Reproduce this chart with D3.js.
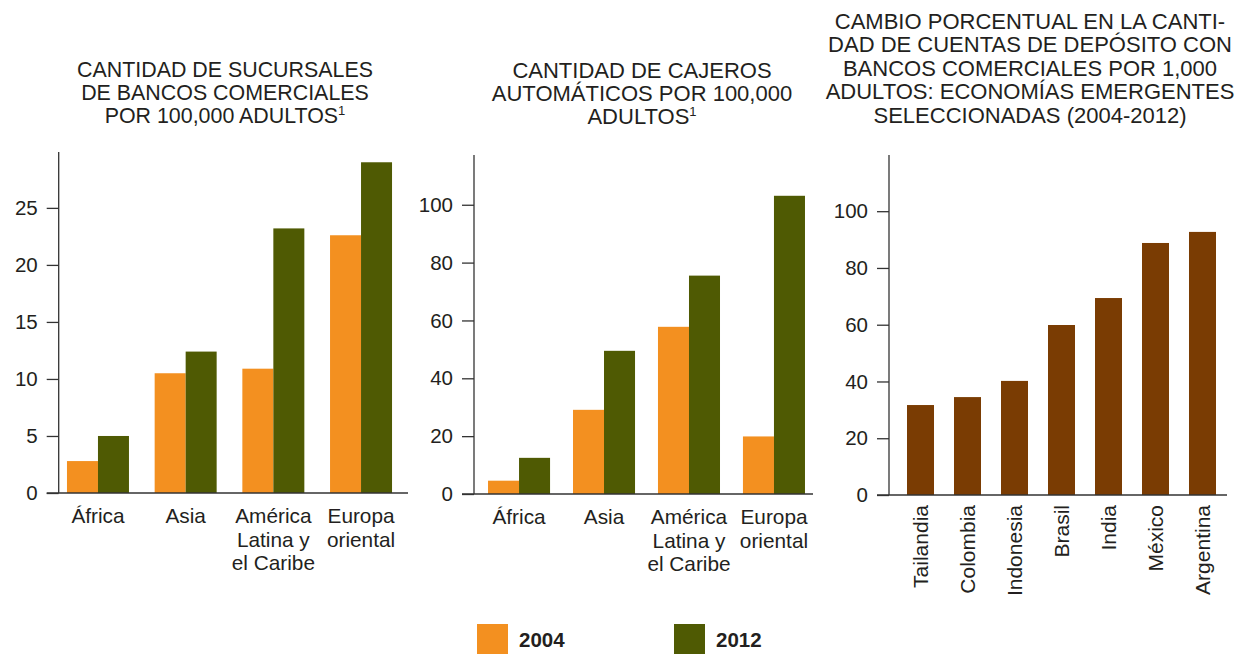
<!DOCTYPE html>
<html>
<head>
<meta charset="utf-8">
<title>Sucursales, cajeros y cuentas</title>
<script src="https://d3js.org/d3.v7.min.js"></script>
<style>
  body { margin: 0; background: #fff; }
  svg text { font-family: "Liberation Sans", Arial, Helvetica, sans-serif; fill: #231f20; }
</style>
<script>
// datos
var regions = ["África", "Asia", "América Latina y el Caribe", "Europa oriental"];
var regionLines = [["África"], ["Asia"], ["América", "Latina y", "el Caribe"], ["Europa", "oriental"]];
var years = ["2004", "2012"];
var branches2004 = [2.8, 10.5, 10.9, 22.6];
var branches2012 = [5.0, 12.4, 23.2, 29.0];
var atms2004 = [4.6, 29.1, 57.8, 19.9];
var atms2012 = [12.5, 49.5, 75.5, 103.1];
var countries = ["Tailandia", "Colombia", "Indonesia", "Brasil", "India", "México", "Argentina"];
var depositChange = [31.7, 34.5, 40.2, 59.9, 69.4, 88.8, 92.7];
var ticks1 = [0, 5, 10, 15, 20, 25];
var ticks2 = [0, 20, 40, 60, 80, 100];
var ticks3 = [0, 20, 40, 60, 80, 100];

var orange = "#f39020", green = "#4f5a03", brown = "#7a3c03", axisColor = "#333";

function drawAxes(svg, y, ticks, axisX, top) {
    var g = svg.append("g").attr("transform", "translate(" + axisX + ",0)");
    g.call(d3.axisLeft(y).tickValues(ticks).tickSize(12).tickSizeOuter(0).tickPadding(9));
    g.select(".domain").remove();
    g.selectAll(".tick line").attr("stroke", axisColor).attr("stroke-width", 1.3);
    g.selectAll(".tick text").style("font-size", "20.5px").attr("fill", "#231f20");
    svg.append("line").attr("x1", axisX).attr("x2", axisX).attr("y1", top).attr("y2", y(0))
        .attr("stroke", axisColor).attr("stroke-width", 1.3);
}

function baseline(svg, y, x0, x1) {
    svg.append("line").attr("x1", x0).attr("x2", x1).attr("y1", y(0)).attr("y2", y(0))
        .attr("stroke", axisColor).attr("stroke-width", 1.5);
}

function title(svg, lines, cx, lastBaseline, gap, size, sup) {
    var t = svg.append("text").attr("text-anchor", "middle").style("font-size", size + "px");
    lines.forEach(function(l, i) {
        var ts = t.append("tspan").attr("x", cx).attr("y", lastBaseline - (lines.length - 1 - i) * gap).text(l);
        if (sup && i == lines.length - 1) {
            ts.append("tspan").attr("dy", -8).style("font-size", "13px").text("1");
        }
    });
}

function grouped(svg, cfg) {
    var y = d3.scaleLinear().domain([0, cfg.yMax]).range([cfg.bottom, cfg.top]);
    var x0 = d3.scaleBand().domain(regions).range(cfg.xRange).paddingInner(cfg.pi).paddingOuter(cfg.po);
    var x1 = d3.scaleBand().domain(years).range([0, x0.bandwidth()]);
    var rows = regions.map(function(r, i) { return {region: r, lines: regionLines[i], v: [cfg.a[i], cfg.b[i]]}; });

    var g = svg.selectAll(null).data(rows).enter().append("g")
        .attr("transform", function(d) { return "translate(" + x0(d.region) + ",0)"; });
    g.selectAll("rect").data(function(d) { return d.v.map(function(v, j) { return {year: years[j], v: v}; }); })
        .enter().append("rect")
        .attr("x", function(d) { return x1(d.year); })
        .attr("width", x1.bandwidth())
        .attr("y", function(d) { return y(d.v); })
        .attr("height", function(d) { return y(0) - y(d.v); })
        .attr("fill", function(d) { return d.year == "2004" ? orange : green; });

    var lab = g.append("text").attr("text-anchor", "middle").style("font-size", "20.8px");
    lab.selectAll("tspan").data(function(d) { return d.lines; }).enter().append("tspan")
        .attr("x", x0.bandwidth() / 2)
        .attr("y", function(d, i) { return y(0) + 30 + i * 23.7; })
        .text(function(d) { return d; });

    drawAxes(svg, y, cfg.ticks, cfg.xRange[0] + cfg.axisOff, cfg.top);
    baseline(svg, y, cfg.xRange[0] + cfg.axisOff - 12, cfg.baseEnd);
}

function createCharts() {
    var svg = d3.select("body").append("svg").attr("width", 1238).attr("height", 654);

    title(svg, ["CANTIDAD DE SUCURSALES", "DE BANCOS COMERCIALES", "POR 100,000 ADULTOS"], 225, 123, 22.8, 21.4, true);
    title(svg, ["CANTIDAD DE CAJEROS", "AUTOMÁTICOS POR 100,000", "ADULTOS"], 642, 124, 22.8, 22, true);
    title(svg, ["CAMBIO PORCENTUAL EN LA CANTI-", "DAD DE CUENTAS DE DEPÓSITO CON",
        "BANCOS COMERCIALES POR 1,000", "ADULTOS: ECONOMÍAS EMERGENTES", "SELECCIONADAS (2004-2012)"], 1030, 123, 23.6, 22, false);

    grouped(svg, {a: branches2004, b: branches2012, yMax: 29.9, top: 152, bottom: 493, ticks: ticks1,
        xRange: [58.2, 400.8], pi: 0.293, po: 0.1, axisOff: 0.5, baseEnd: 408});
    grouped(svg, {a: atms2004, b: atms2012, yMax: 117.2, top: 155, bottom: 494, ticks: ticks2,
        xRange: [474, 819], pi: 0.27, po: 0.165, axisOff: 0, baseEnd: 813});

    // tercer grafico
    var y3 = d3.scaleLinear().domain([0, 119.8]).range([495, 155]);
    var x3 = d3.scaleBand().domain(countries).range([889, 1234]).paddingInner(0.4255).paddingOuter(0.383);
    svg.selectAll(null).data(depositChange).enter().append("rect")
        .attr("x", function(d, i) { return x3(countries[i]); })
        .attr("width", x3.bandwidth())
        .attr("y", function(d) { return y3(d); })
        .attr("height", function(d) { return y3(0) - y3(d); })
        .attr("fill", brown);
    svg.selectAll(null).data(countries).enter().append("text")
        .attr("text-anchor", "end")
        .attr("dy", "0.35em")
        .style("font-size", "21px")
        .attr("transform", function(d) { return "translate(" + (x3(d) + x3.bandwidth() / 2) + "," + (y3(0) + 10) + ") rotate(-90)"; })
        .text(function(d) { return d; });
    drawAxes(svg, y3, ticks3, 889, 155);
    baseline(svg, y3, 877, 1227);

    // leyenda
    var legX = [477, 674];
    var leg = svg.selectAll(null).data(years).enter().append("g")
        .attr("transform", function(d, i) { return "translate(" + legX[i] + ",624)"; });
    leg.append("rect").attr("width", 31).attr("height", 30)
        .attr("fill", function(d) { return d == "2004" ? orange : green; });
    leg.append("text").attr("x", 42).attr("y", 23).style("font-size", "20.5px").style("font-weight", "bold")
        .text(function(d) { return d; });
}
</script>
</head>
<body onload="createCharts()">
</body>
</html>
